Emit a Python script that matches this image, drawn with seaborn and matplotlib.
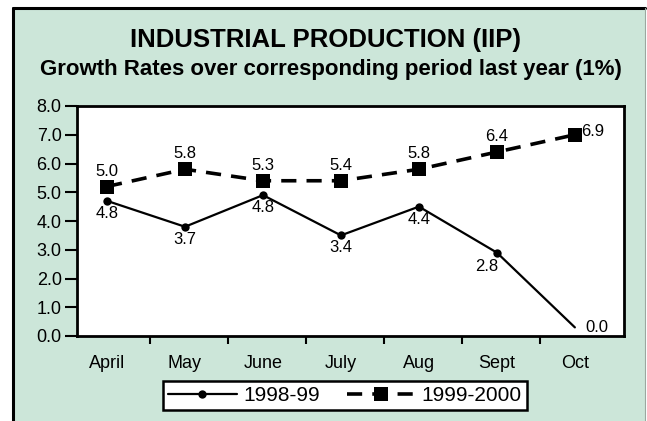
import numpy as np
import pandas as pd
import seaborn as sns
import matplotlib.pyplot as plt
from matplotlib.patches import Rectangle
from matplotlib.lines import Line2D

# data
months = ["April", "May", "June", "July", "Aug", "Sept", "Oct"]
growth_9899 = [4.7, 3.8, 4.9, 3.5, 4.5, 2.9, 0.3]
growth_9900 = [5.2, 5.8, 5.4, 5.4, 5.8, 6.4, 7.0]
labels_9899 = ["4.8", "3.7", "4.8", "3.4", "4.4", "2.8", "0.0"]
labels_9900 = ["5.0", "5.8", "5.3", "5.4", "5.8", "6.4", "6.9"]
y_ticks = [0, 1, 2, 3, 4, 5, 6, 7, 8]

sns.set_theme(style="white")
plt.rcParams["font.family"] = ["Liberation Sans", "DejaVu Sans"]
plt.rcParams["text.color"] = "black"
plt.rcParams["xtick.color"] = "black"
plt.rcParams["ytick.color"] = "black"
plt.rcParams["axes.labelcolor"] = "black"

GREEN = "#cce6d9"

fig = plt.figure(figsize=(6.47, 4.21), dpi=100)
fig.patch.set_facecolor("white")

# green panel with black frame on left/top
fig.patches.append(Rectangle((13 / 647, -0.1), (645 - 13) / 647, 1.1 - 8 / 421,
                             transform=fig.transFigure, facecolor=GREEN,
                             edgecolor="none", zorder=-10))
fig.lines.append(Line2D([13 / 647, 13 / 647], [-0.1, 1 - 8 / 421],
                        transform=fig.transFigure, color="black", lw=2.2))
fig.lines.append(Line2D([13 / 647, 645 / 647], [1 - 8 / 421, 1 - 8 / 421],
                        transform=fig.transFigure, color="black", lw=2.2))
fig.lines.append(Line2D([645 / 647, 645 / 647], [-0.1, 1 - 8 / 421],
                        transform=fig.transFigure, color="#9aa8a0", lw=0.8))

ax = fig.add_axes([77 / 647, 1 - 336 / 421, (624 - 77) / 647, (336 - 106) / 421])
ax.set_facecolor("white")

x = np.arange(len(months))
df = pd.DataFrame({"x": x, "a": growth_9899, "b": growth_9900})

sns.lineplot(data=df, x="x", y="a", ax=ax, color="black", lw=1.6,
             marker="o", markersize=6, markeredgewidth=0,
             markevery=list(range(len(months) - 1)), label="1998-99")
sns.lineplot(data=df, x="x", y="b", ax=ax, color="black", lw=2.6,
             linestyle=(0, (4.2, 2.8)), marker="s", markersize=10,
             markeredgewidth=0, label="1999-2000")

# data labels
off_a = [(0, -9), (0, -9), (0, -9), (0, -9), (0, -9), (-7, -10), (16, 0)]
off_b = [(0, 11), (0, 11), (0, 11), (0, 11), (0, 11), (0, 11), (13, 2)]
for i in range(len(months)):
    ax.annotate(labels_9899[i], (x[i], growth_9899[i]), xytext=off_a[i],
                textcoords="offset points", ha="center", va="center", fontsize=12)
    ax.annotate(labels_9900[i], (x[i], growth_9900[i]), xytext=off_b[i],
                textcoords="offset points", ha="center", va="center", fontsize=12)

ax.set_xlim(-0.385, 6.63)
ax.set_ylim(0, 8)
ax.set_xticks(x)
ax.set_xticklabels(months, fontsize=13)
ax.set_xticks(x[:-1] + 0.55, minor=True)
ax.tick_params(axis="x", which="major", length=0, pad=14)
ax.tick_params(axis="x", which="minor", length=6, width=1.5, color="black", direction="out")
ax.set_yticks(y_ticks)
ax.set_yticklabels([f"{v:.1f}" for v in y_ticks], fontsize=13)
ax.tick_params(axis="y", length=9, width=1.5, color="black", direction="out", pad=2)
ax.tick_params(left=True, bottom=True, which="both")
ax.set_xlabel("")
ax.set_ylabel("")
for s in ax.spines.values():
    s.set_color("black")
    s.set_linewidth(2)

leg = ax.legend(loc="center", bbox_to_anchor=(345 / 647, 1 - 395.5 / 421),
                bbox_transform=fig.transFigure, ncol=2, fontsize=15,
                frameon=True, fancybox=False, edgecolor="black", framealpha=1,
                handlelength=3.3, handletextpad=0.3, columnspacing=1.3,
                borderpad=0.25)
leg.get_frame().set_linewidth(1.8)

fig.text(325 / 647, 1 - 46.5 / 421, "INDUSTRIAL PRODUCTION (IIP)", ha="center",
         va="baseline", fontsize=18.5, fontweight="bold")
fig.text(331 / 647, 1 - 75 / 421, "Growth Rates over corresponding period last year (1%)",
         ha="center", va="baseline", fontsize=16, fontweight="bold")

fig.savefig("out.png", dpi=100)
